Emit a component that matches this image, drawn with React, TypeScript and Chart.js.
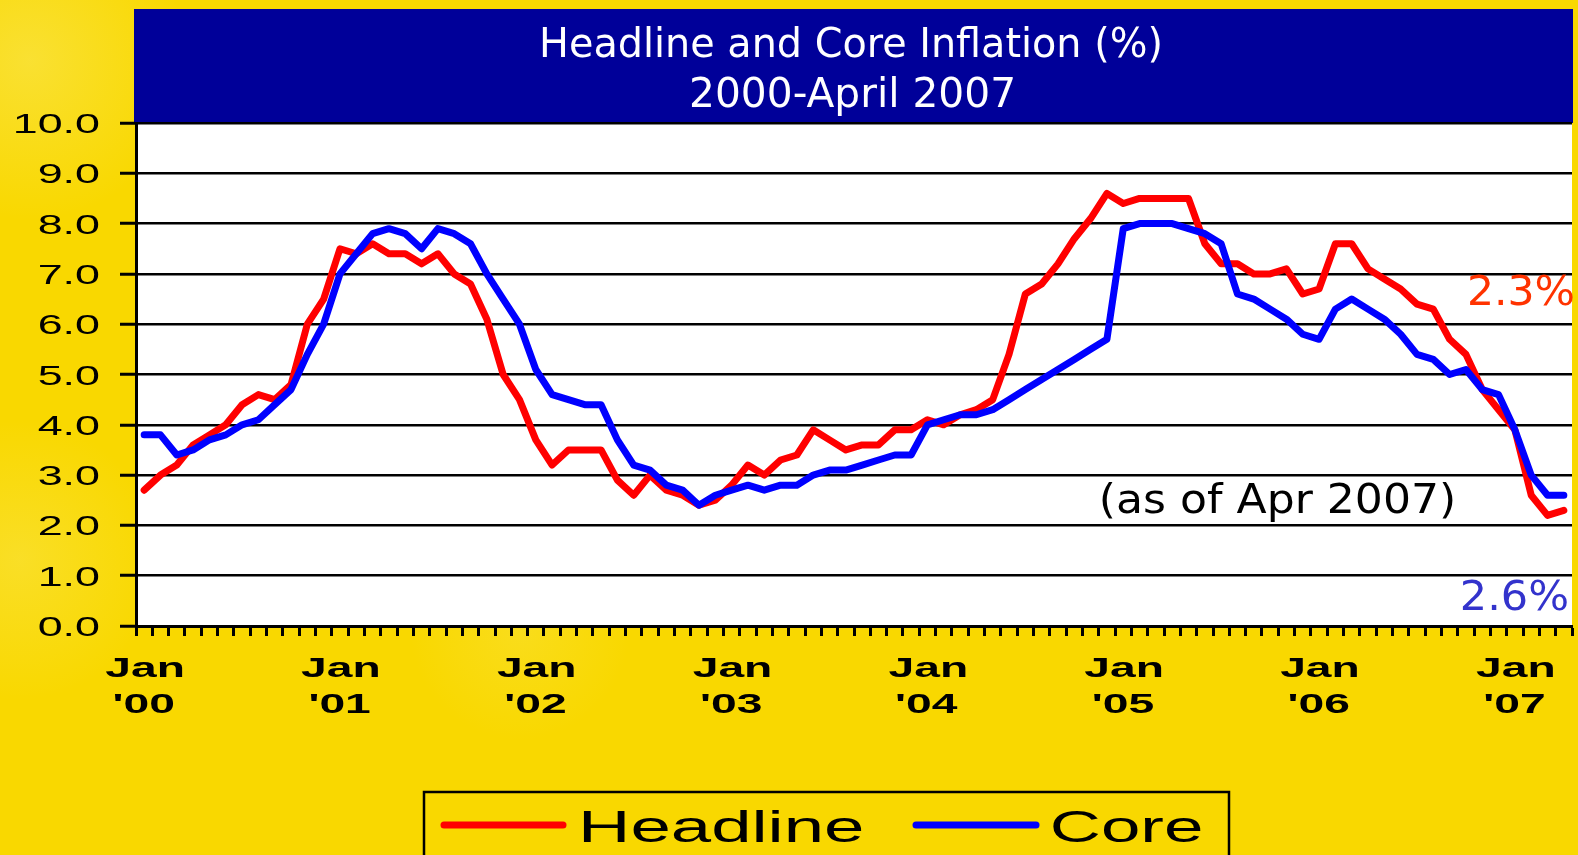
import React, { useEffect, useRef } from "react";
import { Chart, registerables } from "chart.js";

Chart.register(...registerables);

// ---------- data ----------
const MONTHS = ["Jan", "Feb", "Mar", "Apr", "May", "Jun", "Jul", "Aug", "Sep", "Oct", "Nov", "Dec"];
const YEARS = ["00", "01", "02", "03", "04", "05", "06", "07"];
const MONTHS_IN_LAST_YEAR = 4; // data runs to April 2007

const CATEGORIES: string[] = [];
YEARS.forEach((y, yi) => {
  MONTHS.forEach((m, mi) => {
    if (yi < YEARS.length - 1 || mi < MONTHS_IN_LAST_YEAR) CATEGORIES.push(`${m} '${y}`);
  });
});

const HEADLINE = [
  2.7, 3.0, 3.2, 3.6, 3.8, 4.0, 4.4, 4.6, 4.5, 4.8, 6.0, 6.5,
  7.5, 7.4, 7.6, 7.4, 7.4, 7.2, 7.4, 7.0, 6.8, 6.1, 5.0, 4.5,
  3.7, 3.2, 3.5, 3.5, 3.5, 2.9, 2.6, 3.0, 2.7, 2.6, 2.4, 2.5,
  2.8, 3.2, 3.0, 3.3, 3.4, 3.9, 3.7, 3.5, 3.6, 3.6, 3.9, 3.9,
  4.1, 4.0, 4.2, 4.3, 4.5, 5.4, 6.6, 6.8, 7.2, 7.7, 8.1, 8.6,
  8.4, 8.5, 8.5, 8.5, 8.5, 7.6, 7.2, 7.2, 7.0, 7.0, 7.1, 6.6,
  6.7, 7.6, 7.6, 7.1, 6.9, 6.7, 6.4, 6.3, 5.7, 5.4, 4.7, 4.3,
  3.9, 2.6, 2.2, 2.3,
];

const CORE = [
  3.8, 3.8, 3.4, 3.5, 3.7, 3.8, 4.0, 4.1, 4.4, 4.7, 5.4, 6.0,
  7.0, 7.4, 7.8, 7.9, 7.8, 7.5, 7.9, 7.8, 7.6, 7.0, 6.5, 6.0,
  5.1, 4.6, 4.5, 4.4, 4.4, 3.7, 3.2, 3.1, 2.8, 2.7, 2.4, 2.6,
  2.7, 2.8, 2.7, 2.8, 2.8, 3.0, 3.1, 3.1, 3.2, 3.3, 3.4, 3.4,
  4.0, 4.1, 4.2, 4.2, 4.3, 4.5, 4.7, 4.9, 5.1, 5.3, 5.5, 5.7,
  7.9, 8.0, 8.0, 8.0, 7.9, 7.8, 7.6, 6.6, 6.5, 6.3, 6.1, 5.8,
  5.7, 6.3, 6.5, 6.3, 6.1, 5.8, 5.4, 5.3, 5.0, 5.1, 4.7, 4.6,
  3.9, 3.0, 2.6, 2.6,
];

const Y_TICKS = [0, 1, 2, 3, 4, 5, 6, 7, 8, 9, 10];
const SERIES_NAMES = ["Headline", "Core"];
const TITLE_LINES = ["Headline and Core Inflation (%)", "2000-April 2007"];
const NOTE_TEXT = "(as of Apr 2007)";
const HEADLINE_LATEST = "2.3%";
const CORE_LATEST = "2.6%";

// ---------- styles ----------
const BG_YELLOW = "#F9D800";
const BANNER_BLUE = "#000099";
const RED = "#FF0000";
const BLUE = "#0000FF";
const ARIAL = '"Liberation Sans", Arial, sans-serif';
const TAHOMA = '"DejaVu Sans", Verdana, sans-serif';

type Align = "left" | "right" | "center";

function drawStretched(
  ctx: CanvasRenderingContext2D,
  text: string,
  x: number,
  y: number,
  font: string,
  color: string,
  sx: number,
  align: Align
) {
  ctx.save();
  ctx.font = font;
  ctx.fillStyle = color;
  ctx.textAlign = "left";
  ctx.textBaseline = "alphabetic";
  const m = ctx.measureText(text);
  const L = m.actualBoundingBoxLeft;
  const R = m.actualBoundingBoxRight;
  let origin: number;
  if (align === "left") origin = x + L * sx;
  else if (align === "right") origin = x - R * sx;
  else origin = x - (sx * (R - L)) / 2;
  ctx.translate(origin, y);
  ctx.scale(sx, 1);
  ctx.fillText(text, 0, 0);
  ctx.restore();
}

function drawFitted(
  ctx: CanvasRenderingContext2D,
  text: string,
  left: number,
  y: number,
  width: number,
  font: string,
  color: string
) {
  ctx.save();
  ctx.font = font;
  const m = ctx.measureText(text);
  const ink = m.actualBoundingBoxLeft + m.actualBoundingBoxRight;
  ctx.restore();
  drawStretched(ctx, text, left, y, font, color, width / ink, "left");
}

const decorPlugin = {
  id: "decor",
  beforeDraw(chart: any) {
    const ctx: CanvasRenderingContext2D = chart.ctx;
    const { width, height } = chart;
    ctx.save();
    ctx.fillStyle = BG_YELLOW;
    ctx.fillRect(0, 0, width, height);
    // soft lighter patches of the slide background
    const patches = [
      { x: 30, y: 60, r: 160, a: 0.45 },
      { x: 20, y: 560, r: 140, a: 0.35 },
      { x: 520, y: 630, r: 110, a: 0.25 },
    ];
    patches.forEach((p) => {
      const g = ctx.createRadialGradient(p.x, p.y, 0, p.x, p.y, p.r);
      g.addColorStop(0, `rgba(250,235,110,${p.a})`);
      g.addColorStop(1, "rgba(250,235,110,0)");
      ctx.fillStyle = g;
      ctx.fillRect(p.x - p.r, p.y - p.r, p.r * 2, p.r * 2);
    });
    // title banner
    ctx.fillStyle = BANNER_BLUE;
    ctx.fillRect(134, 9, 1573 - 134, 123 - 9);
    // plot background
    const a = chart.chartArea;
    ctx.fillStyle = "#FFFFFF";
    ctx.fillRect(a.left, a.top, a.right - a.left, a.bottom - a.top);
    ctx.restore();
  },
  afterDraw(chart: any) {
    const ctx: CanvasRenderingContext2D = chart.ctx;
    const xs = chart.scales.x;
    const ys = chart.scales.y;

    // title
    drawFitted(ctx, TITLE_LINES[0], 543, 57, 617, `41px ${TAHOMA}`, "#FFFFFF");
    drawFitted(ctx, TITLE_LINES[1], 692, 107, 321, `41px ${TAHOMA}`, "#FFFFFF");

    // y tick labels
    Y_TICKS.forEach((v) => {
      const py = ys.getPixelForValue(v);
      drawStretched(ctx, v.toFixed(1), 99, py + 10, `28px ${ARIAL}`, "#000", 1.6, "right");
    });

    // x tick labels (January of each year)
    CATEGORIES.forEach((c, i) => {
      if (!c.startsWith("Jan")) return;
      const px = xs.getPixelForValue(i);
      const parts = c.split(" ");
      drawStretched(ctx, parts[0], px, 677, `bold 28px ${ARIAL}`, "#000", 1.65, "center");
      drawStretched(ctx, parts[1], px, 713, `bold 28px ${ARIAL}`, "#000", 1.65, "center");
    });

    // annotations
    drawFitted(ctx, NOTE_TEXT, 1102, 513, 351, `41px ${TAHOMA}`, "#000");
    drawFitted(ctx, HEADLINE_LATEST, 1470, 305, 103, `41px ${TAHOMA}`, "#FF3300");
    drawFitted(ctx, CORE_LATEST, 1463, 610, 104, `41px ${TAHOMA}`, "#3333CC");

    // legend
    ctx.save();
    ctx.lineWidth = 2.5;
    ctx.strokeStyle = "#000";
    ctx.strokeRect(424, 792, 805, 90);
    ctx.lineCap = "round";
    ctx.lineWidth = 7;
    const ds = chart.data.datasets;
    ctx.strokeStyle = ds[0].borderColor;
    ctx.beginPath();
    ctx.moveTo(444, 825);
    ctx.lineTo(563, 825);
    ctx.stroke();
    ctx.strokeStyle = ds[1].borderColor;
    ctx.beginPath();
    ctx.moveTo(916, 825);
    ctx.lineTo(1036, 825);
    ctx.stroke();
    ctx.restore();
    drawFitted(ctx, ds[0].label, 583, 842, 279, `44px ${ARIAL}`, "#000");
    drawFitted(ctx, ds[1].label, 1053, 842, 148, `44px ${ARIAL}`, "#000");
  },
};

export default function App() {
  const canvasRef = useRef<HTMLCanvasElement | null>(null);

  useEffect(() => {
    const canvas = canvasRef.current;
    if (!canvas) return;
    const chart = new Chart(canvas, {
      type: "line",
      data: {
        labels: CATEGORIES,
        datasets: [
          {
            label: SERIES_NAMES[0],
            data: HEADLINE,
            borderColor: RED,
            backgroundColor: RED,
            borderWidth: 7,
            pointRadius: 0,
            tension: 0,
            borderJoinStyle: "round",
            borderCapStyle: "round",
            order: 1,
          },
          {
            label: SERIES_NAMES[1],
            data: CORE,
            borderColor: BLUE,
            backgroundColor: BLUE,
            borderWidth: 7,
            pointRadius: 0,
            tension: 0,
            borderJoinStyle: "round",
            borderCapStyle: "round",
            order: 0,
          },
        ],
      },
      options: {
        responsive: false,
        devicePixelRatio: 1,
        animation: false,
        layout: { padding: { top: 123, right: 6, left: 0, bottom: 0 } },
        plugins: {
          legend: { display: false },
          title: { display: false },
          tooltip: { enabled: false },
        },
        scales: {
          x: {
            type: "category",
            offset: true,
            afterFit: (s: any) => {
              s.height = 229;
            },
            grid: {
              display: true,
              offset: true,
              drawOnChartArea: false,
              drawTicks: true,
              tickLength: 10,
              tickWidth: 3,
              tickColor: "#000",
            },
            border: { display: true, color: "#000", width: 3 },
            ticks: { display: false, autoSkip: false },
          },
          y: {
            min: 0,
            max: 10,
            afterFit: (s: any) => {
              s.width = 136;
            },
            ticks: { stepSize: 1, display: false },
            grid: {
              color: "#000",
              lineWidth: 2.5,
              drawTicks: true,
              tickLength: 16,
              tickWidth: 3,
              tickColor: "#000",
            },
            border: { display: true, color: "#000", width: 3 },
          },
        },
      },
      plugins: [decorPlugin],
    } as any);
    return () => chart.destroy();
  }, []);

  return (
    <div style={{ position: "fixed", left: 0, top: 0, width: 1578, height: 855, background: BG_YELLOW }}>
      <canvas ref={canvasRef} width={1578} height={855} style={{ display: "block" }} />
    </div>
  );
}
